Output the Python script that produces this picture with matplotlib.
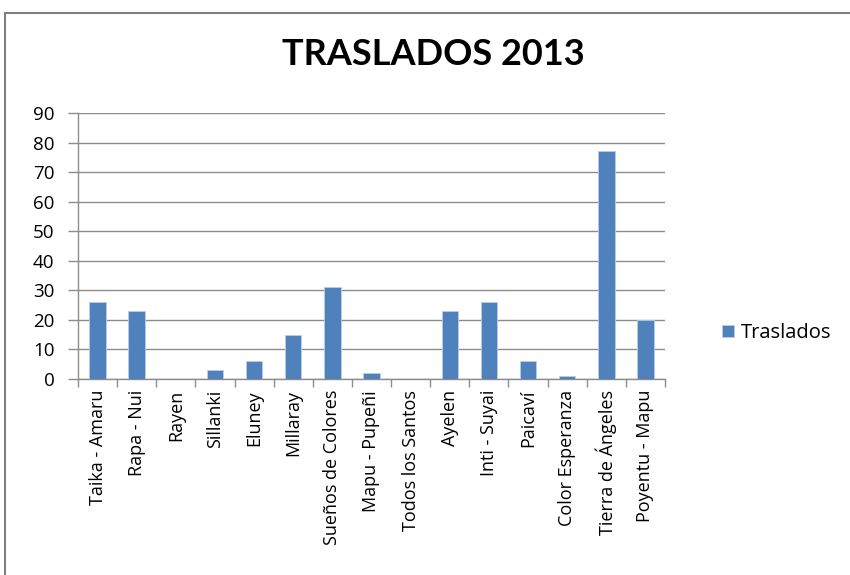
import matplotlib.pyplot as plt
import numpy as np
from matplotlib.patches import Rectangle

categories = ['Taika - Amaru', 'Rapa - Nui', 'Rayen', 'Sillanki', 'Eluney', 'Millaray',
              'Sueños de Colores', 'Mapu - Pupeñi', 'Todos los Santos', 'Ayelen',
              'Inti - Suyai', 'Paicaví', 'Color Esperanza', 'Tierra de Ángeles', 'Poyentu - Mapu']
traslados = [26, 23, 0, 3, 6, 15, 31, 2, 0, 23, 26, 6, 1, 77, 20]
yticks = list(range(0, 91, 10))

plt.rcParams['font.family'] = ['Open Sans', 'DejaVu Sans']

fig = plt.figure(figsize=(8.5, 5.75), dpi=100)
ax = fig.add_axes([78 / 850, 1 - 379 / 575, (665 - 78) / 850, (379 - 113) / 575])

x = np.arange(len(categories))
ax.bar(x, traslados, width=0.42, color='#4F81BD', edgecolor='#B9CDE5', linewidth=0.6,
       label='Traslados', zorder=3)

ax.set_xlim(-0.5, len(categories) - 0.5)
ax.set_ylim(0, 90)
ax.set_yticks(yticks)
ax.set_yticklabels([str(v) for v in yticks], fontsize=13.5)
ax.yaxis.grid(True, color='#8c8c8c', linewidth=1, zorder=0)

# category labels rotated, ticks between categories
ax.set_xticks(x)
ax.set_xticklabels(categories, rotation=90, fontsize=13)
ax.tick_params(axis='x', length=0, pad=8)
ax.set_xticks(np.arange(-0.5, len(categories)), minor=True)
ax.tick_params(axis='x', which='minor', length=6, color='#8c8c8c', width=1)
ax.tick_params(axis='y', length=7, color='#8c8c8c', width=1, pad=10)

for side in ['top', 'right']:
    ax.spines[side].set_visible(False)
for side in ['left', 'bottom']:
    ax.spines[side].set_color('#8c8c8c')
    ax.spines[side].set_linewidth(1)

fig.text(0.51, 0.905, 'TRASLADOS 2013', ha='center', va='center',
         fontsize=26, fontweight='bold', family=['Lato', 'DejaVu Sans'])

fig.legend(loc='center left', bbox_to_anchor=(722 / 850, 1 - 333 / 575), frameon=False,
           fontsize=14.5, handlelength=0.6, handleheight=0.6, handletextpad=0.35,
           borderpad=0, borderaxespad=0)

# chart border
fig.patches.append(Rectangle((5 / 850, -0.05), 1.0, 1 - 13 / 575 + 0.05,
                             transform=fig.transFigure, fill=False,
                             edgecolor='#808080', linewidth=1.5))

plt.savefig('out.png')
